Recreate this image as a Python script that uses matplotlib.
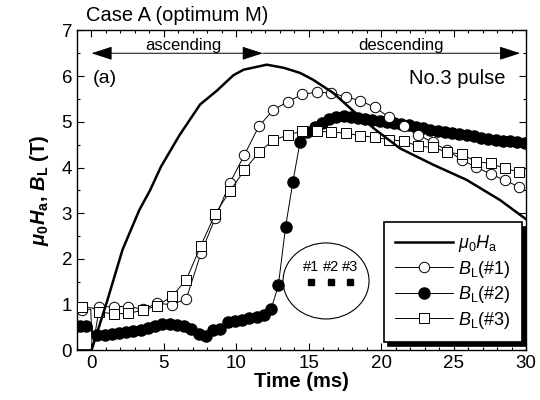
import matplotlib
matplotlib.use('Agg')
import matplotlib.pyplot as plt
from matplotlib.patches import Ellipse
from matplotlib.ticker import MultipleLocator

plt.rcParams['font.family'] = ['Liberation Sans', 'DejaVu Sans']
plt.rcParams['mathtext.fontset'] = 'custom'
plt.rcParams['mathtext.rm'] = 'Liberation Sans'
plt.rcParams['mathtext.it'] = 'Liberation Sans:italic'
plt.rcParams['mathtext.bf'] = 'Liberation Sans:bold'
plt.rcParams['mathtext.bfit'] = 'Liberation Sans:bold:italic'

# applied field mu0*Ha (T) vs time (ms)
t_ha = [-1.0, 0.0, 1.1, 2.14, 3.3, 4.04, 4.8, 6.06, 7.5, 8.65, 9.8, 10.5, 12.1,
        13.3, 14.4, 15.3, 16.7, 18.1, 19.6, 21.3, 23.6, 25.9, 28.2, 30.0]
ha = [0.0, 0.0, 1.1, 2.2, 3.07, 3.5, 4.02, 4.7, 5.38, 5.68, 6.02, 6.14, 6.25,
      6.18, 6.07, 5.92, 5.63, 5.23, 4.83, 4.42, 4.06, 3.73, 3.29, 2.87]

# B_L at positions #1 and #3 (glitch at t=0 kept as the 3rd/4th points)
t13 = [-0.65, -0.05, 0.05, 0.55, 1.55, 2.55, 3.55, 4.55, 5.55, 6.55, 7.55, 8.55,
       9.55, 10.55, 11.55, 12.55, 13.55, 14.55, 15.55, 16.55, 17.55, 18.55,
       19.55, 20.55, 21.55, 22.55, 23.55, 24.55, 25.55, 26.55, 27.55, 28.55, 29.55]
b1 = [0.89, 0.9, 0.0, 0.95, 0.96, 0.96, 0.90, 1.03, 1.00, 1.13, 2.12, 2.90,
      3.66, 4.27, 4.90, 5.26, 5.44, 5.60, 5.65, 5.63, 5.55, 5.46,
      5.32, 5.10, 4.90, 4.72, 4.55, 4.38, 4.17, 4.01, 3.86, 3.72, 3.57]
b3 = [0.96, 0.93, 0.93, 0.84, 0.80, 0.81, 0.88, 0.98, 1.18, 1.55, 2.29, 2.99,
      3.48, 3.94, 4.33, 4.60, 4.71, 4.80, 4.79, 4.78, 4.75, 4.70,
      4.66, 4.61, 4.58, 4.47, 4.44, 4.34, 4.29, 4.13, 4.09, 3.98, 3.90]
mark13 = [0] + list(range(3, len(t13)))

# B_L at position #2 (step at t=0 kept as the 3rd/4th points)
t2 = [-0.8, -0.35, 0.05, 0.1, 0.4, 0.9, 1.4, 1.9, 2.4, 2.9, 3.4, 3.9, 4.4, 4.9,
      5.4, 5.9, 6.4, 6.9, 7.4, 7.9, 8.4, 8.9, 9.4, 9.9, 10.4, 10.9, 11.4, 11.9,
      12.4, 12.9, 13.4, 13.9, 14.4, 14.9, 15.4, 15.9, 16.4, 16.9, 17.4, 17.9,
      18.4, 18.9, 19.4, 19.9, 20.4, 20.9, 21.4, 21.9, 22.4, 22.9, 23.4, 23.9,
      24.4, 24.9, 25.4, 25.9, 26.4, 26.9, 27.4, 27.9, 28.4, 28.9, 29.4, 29.9]
b2 = [0.53, 0.53, 0.53, 0.28, 0.33, 0.34, 0.36, 0.38, 0.40, 0.42, 0.45, 0.50,
      0.54, 0.57, 0.58, 0.56, 0.53, 0.47, 0.36, 0.31, 0.44, 0.47, 0.63, 0.65,
      0.67, 0.70, 0.74, 0.78, 0.90, 1.42, 2.70, 3.68, 4.56, 4.78, 4.88, 4.98,
      5.06, 5.11, 5.12, 5.11, 5.09, 5.06, 5.03, 5.01, 4.99, 4.97, 4.95, 4.92,
      4.89, 4.86, 4.83, 4.80, 4.78, 4.75, 4.73, 4.71, 4.68, 4.65, 4.63, 4.61,
      4.59, 4.57, 4.55, 4.53]
mark2 = [0, 1] + list(range(4, len(t2)))

fig = plt.figure(figsize=(5.4, 4.0), dpi=100)
ax = fig.add_axes([0.1426, 0.124, 0.8315, 0.8])

ax.plot(t_ha, ha, color='black', lw=1.8, label=r'$\mu_0H_\mathrm{a}$', zorder=4)
ax.plot(t13, b1, color='black', lw=0.7, marker='o', ms=7.5, mfc='white',
        mec='black', mew=0.7, markevery=mark13, label=r'$B_\mathrm{L}$(#1)', zorder=3)
ax.plot(t2, b2, color='black', lw=0.7, marker='o', ms=8, mfc='black',
        mec='black', markevery=mark2, label=r'$B_\mathrm{L}$(#2)', zorder=2)
ax.plot(t13, b3, color='black', lw=0.7, marker='s', ms=7.5, mfc='white',
        mec='black', mew=0.7, markevery=mark13, label=r'$B_\mathrm{L}$(#3)', zorder=3)

ax.set_xlim(-1, 30)
ax.set_ylim(0, 7)
ax.xaxis.set_major_locator(MultipleLocator(5))
ax.xaxis.set_minor_locator(MultipleLocator(1))
ax.yaxis.set_major_locator(MultipleLocator(1))
ax.yaxis.set_minor_locator(MultipleLocator(0.5))
ax.tick_params(which='both', direction='in', top=True, right=True, width=0.8,
               labelsize=13.5)
ax.tick_params(which='major', length=5)
ax.tick_params(which='minor', length=2.5)
for s in ax.spines.values():
    s.set_linewidth(1.0)

ax.set_xlabel('Time (ms)', fontsize=14.5, fontweight='bold', labelpad=0)
ax.set_ylabel(r'$\mathbfit{\mu}_\mathbf{0}\mathbfit{H}_\mathbf{a}$, $\mathbfit{B}_\mathbf{L}$ (T)',
              fontsize=14.5, fontweight='bold', labelpad=8)

# ascending / descending arrows
arr = dict(arrowstyle='<|-|>,head_length=1.3,head_width=0.42', color='black',
           lw=0.7, shrinkA=0, shrinkB=0, mutation_scale=10)
ax.annotate('', xy=(0.0, 6.5), xytext=(11.83, 6.5), arrowprops=arr)
arr2 = dict(arrowstyle='<|-,head_length=1.3,head_width=0.42', color='black',
            lw=0.7, shrinkA=0, shrinkB=0, mutation_scale=10)
ax.annotate('', xy=(11.83, 6.5), xytext=(29.6, 6.5), arrowprops=arr2)
ax.text(6.35, 6.67, 'ascending', ha='center', va='center', fontsize=12)
ax.text(21.34, 6.67, 'descending', ha='center', va='center', fontsize=12)

ax.text(0.12, 5.95, '(a)', ha='left', va='center', fontsize=14)
ax.text(28.6, 5.95, 'No.3 pulse', ha='right', va='center', fontsize=14.5)
fig.text(86 / 540, 1 - 15.5 / 400, 'Case A (optimum M)', ha='left', va='center',
         fontsize=14.5)

# sample sketch with sensor positions
ax.add_patch(Ellipse((0.5546, 0.217), 0.1915, 0.2375, transform=ax.transAxes,
                     fill=False, ec='black', lw=0.8))
for xs, lab in zip([0.521, 0.566, 0.609], ['#1', '#2', '#3']):
    ax.plot([xs], [0.215], 's', ms=5, color='black', transform=ax.transAxes)
    ax.text(xs, 0.262, lab, ha='center', va='center', fontsize=10.5,
            transform=ax.transAxes)

leg = ax.legend(loc='lower right', bbox_to_anchor=(0.99, 0.0275), borderaxespad=0,
                fontsize=13, numpoints=1, handlelength=3.2, handletextpad=0.3,
                labelspacing=0.25, borderpad=0.6, fancybox=False,
                shadow={'color': 'black', 'alpha': 1, 'ox': 3, 'oy': -3},
                framealpha=1, edgecolor='black')
leg.get_frame().set_linewidth(1.2)
leg.set_zorder(10)

fig.savefig('out.png', dpi=100)
